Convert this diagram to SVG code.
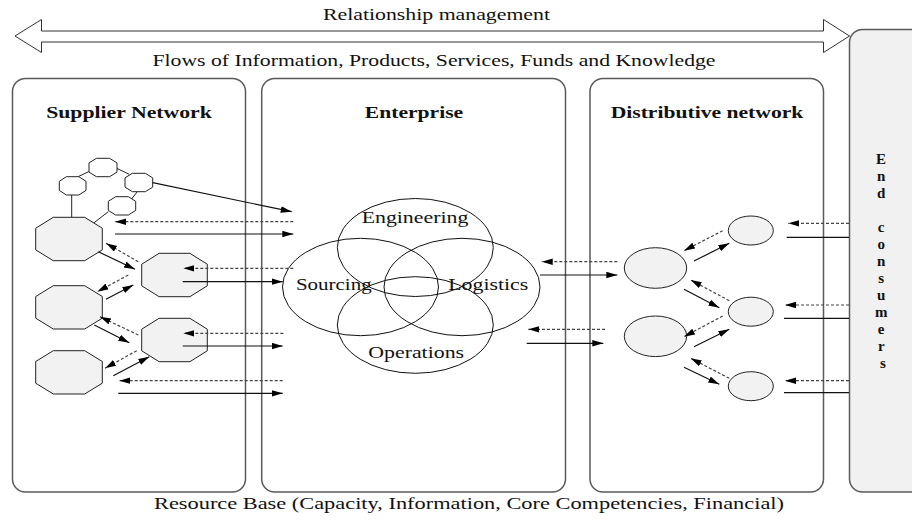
<svg xmlns="http://www.w3.org/2000/svg" width="912" height="523" viewBox="0 0 912 523">
  <style>
    .panel { fill: #ffffff; stroke: #5a5a5a; stroke-width: 1.5; }
    .consumer { fill: #f1f1f1; stroke: #5a5a5a; stroke-width: 1.5; }
    .oct { fill: #f2f2f2; stroke: #222; stroke-width: 1; }
    .soct { fill: #ffffff; stroke: #222; stroke-width: 1; }
    .node-ell { fill: #f2f2f2; stroke: #222; stroke-width: 1; }
    .venn { fill: none; stroke: #111; stroke-width: 1; }
    .link { stroke: #222; stroke-width: 1; fill: none; }
    .solid { stroke: #111; stroke-width: 1.2; fill: none; marker-end: url(#ah); }
    .plain { stroke: #111; stroke-width: 1.2; fill: none; }
    .dash { stroke: #444; stroke-width: 1.2; fill: none; stroke-dasharray: 3 2; marker-end: url(#ah); }
    .lbl { font-family: "Liberation Serif", "Times New Roman", serif; font-size: 17px; fill: #111; }
    .ttl { font-family: "Liberation Serif", "Times New Roman", serif; font-size: 17px; font-weight: bold; fill: #111; }
    .vert { font-family: "Liberation Serif", "Times New Roman", serif; font-size: 15px; font-weight: bold; fill: #111; }
  </style>
  <defs>
    <marker id="ah" markerUnits="userSpaceOnUse" markerWidth="12" markerHeight="8" refX="11" refY="3.25" orient="auto">
      <path d="M0,0 L11,3.25 L0,6.5 z" fill="#000"/>
    </marker>
  </defs>

  <rect width="912" height="523" fill="#ffffff"/>

  <!-- top band: relationship management double arrow -->
  <g id="relationship">
    <polygon points="15,36 41.5,19.5 41.5,31 823.5,31 823.5,19.5 849.5,36 823.5,52.5 823.5,42 41.5,42 41.5,52.5" fill="#fff" stroke="#333" stroke-width="1"/>
    <text class="lbl" x="436.5" y="20" text-anchor="middle" textLength="227" lengthAdjust="spacingAndGlyphs">Relationship management</text>
    <text class="lbl" x="434" y="65.5" text-anchor="middle" textLength="563" lengthAdjust="spacingAndGlyphs">Flows of Information, Products, Services, Funds and Knowledge</text>
  </g>

  <!-- end consumers column -->
  <g id="end-consumers">
    <rect class="consumer" x="849.5" y="29.5" width="80" height="462.5" rx="13" ry="13"/>
    <text class="vert" text-anchor="middle">
      <tspan x="883" y="164">E</tspan>
      <tspan x="883" y="181">n</tspan>
      <tspan x="883" y="198">d</tspan>
      <tspan x="883" y="232">c</tspan>
      <tspan x="883" y="249">o</tspan>
      <tspan x="883" y="266">n</tspan>
      <tspan x="883" y="283">s</tspan>
      <tspan x="883" y="300">u</tspan>
      <tspan x="883" y="317">m</tspan>
      <tspan x="883" y="334">e</tspan>
      <tspan x="883" y="351">r</tspan>
      <tspan x="883" y="368">s</tspan>
    </text>
  </g>

  <!-- supplier network -->
  <g id="supplier-network">
    <rect class="panel" x="12.5" y="78.5" width="233" height="413.5" rx="13" ry="13"/>
    <text class="ttl" x="129" y="118.3" text-anchor="middle" textLength="165.7" lengthAdjust="spacingAndGlyphs">Supplier Network</text>
    <!-- tier-2 supplier cluster -->
    <line class="link" x1="78" y1="176.7" x2="90" y2="171"/>
    <line class="link" x1="116.7" y1="168.3" x2="129.3" y2="174.3"/>
    <line class="link" x1="137.3" y1="191.7" x2="130.7" y2="200"/>
    <line class="link" x1="71.7" y1="195" x2="71.7" y2="217.3"/>
    <line class="link" x1="108.3" y1="211.7" x2="93.3" y2="223.3"/>
    <polygon class="soct" points="96.4,158.3 109.6,158.3 117,162.9 117,172.1 109.6,176.7 96.4,176.7 89,172.1 89,162.9"/>
    <polygon class="soct" points="66.4,176.7 78.9,176.7 86,181.3 86,190.4 78.9,195 66.4,195 59.3,190.4 59.3,181.3"/>
    <polygon class="soct" points="132.3,173.3 145.4,173.3 152.7,177.9 152.7,187.1 145.4,191.7 132.3,191.7 125,187.1 125,177.9"/>
    <polygon class="soct" points="115.6,196.7 128.4,196.7 135.7,201.3 135.7,210.4 128.4,215 115.6,215 108.3,210.4 108.3,201.3"/>
    <!-- tier-1 suppliers -->
    <polygon class="oct" points="53.3,217.3 84.7,217.3 102.3,228.2 102.3,249.9 84.7,260.7 53.3,260.7 35.7,249.9 35.7,228.2"/>
    <polygon class="oct" points="53.3,285.7 84.7,285.7 102.3,296.5 102.3,318.2 84.7,329 53.3,329 35.7,318.2 35.7,296.5"/>
    <polygon class="oct" points="53.3,350.7 84.7,350.7 102.3,361.5 102.3,383.2 84.7,394 53.3,394 35.7,383.2 35.7,361.5"/>
    <polygon class="oct" points="159.1,253.3 189.9,253.3 207.3,264.2 207.3,285.8 189.9,296.7 159.1,296.7 141.7,285.8 141.7,264.2"/>
    <polygon class="oct" points="159.1,318.3 189.9,318.3 207.3,329.2 207.3,350.8 189.9,361.7 159.1,361.7 141.7,350.8 141.7,329.2"/>
  </g>

  <!-- enterprise -->
  <g id="enterprise">
    <rect class="panel" x="261.7" y="78.5" width="303.8" height="413.5" rx="13" ry="13"/>
    <text class="ttl" x="414" y="118.3" text-anchor="middle" textLength="98.3" lengthAdjust="spacingAndGlyphs">Enterprise</text>
    <ellipse class="venn" cx="415.3" cy="247.5" rx="78" ry="49"/>
    <ellipse class="venn" cx="360.5" cy="287" rx="78" ry="48.7"/>
    <ellipse class="venn" cx="462" cy="287" rx="78" ry="48.7"/>
    <ellipse class="venn" cx="415.3" cy="325" rx="78" ry="48.3"/>
    <text class="lbl" x="415" y="223.3" text-anchor="middle" textLength="106.7" lengthAdjust="spacingAndGlyphs">Engineering</text>
    <text class="lbl" x="333.8" y="290" text-anchor="middle" textLength="75.7" lengthAdjust="spacingAndGlyphs">Sourcing</text>
    <text class="lbl" x="488.3" y="290" text-anchor="middle" textLength="80" lengthAdjust="spacingAndGlyphs">Logistics</text>
    <text class="lbl" x="416.2" y="358.3" text-anchor="middle" textLength="95.7" lengthAdjust="spacingAndGlyphs">Operations</text>
  </g>

  <!-- distributive network -->
  <g id="distributive-network">
    <rect class="panel" x="590" y="78.5" width="233.5" height="413.5" rx="13" ry="13"/>
    <text class="ttl" x="707" y="118.3" text-anchor="middle" textLength="192.7" lengthAdjust="spacingAndGlyphs">Distributive network</text>
    <ellipse class="node-ell" cx="655.5" cy="268" rx="31.2" ry="20.3"/>
    <ellipse class="node-ell" cx="655.5" cy="336.3" rx="31.2" ry="20.3"/>
    <ellipse class="node-ell" cx="750.8" cy="230.5" rx="22.5" ry="14.5"/>
    <ellipse class="node-ell" cx="750.8" cy="311.7" rx="22.5" ry="14.5"/>
    <ellipse class="node-ell" cx="750.8" cy="386.2" rx="22.5" ry="14.5"/>
  </g>

  <!-- resource base caption -->
  <g id="resource-base">
    <text class="lbl" x="469" y="509" text-anchor="middle" textLength="630" lengthAdjust="spacingAndGlyphs">Resource Base (Capacity, Information, Core Competencies, Financial)</text>
  </g>

  <!-- flows between nodes and tiers -->
  <g id="connectors">
    <!-- supplier side -->
    <line class="solid" x1="152.7" y1="182.7" x2="291.7" y2="211.7"/>
    <line class="dash" x1="293.3" y1="221.7" x2="115" y2="221.7"/>
    <line class="solid" x1="115" y1="234" x2="293.3" y2="234"/>
    <line class="solid" x1="98.3" y1="251.7" x2="135" y2="269.3"/>
    <line class="dash" x1="138.3" y1="261.7" x2="106" y2="243.3"/>
    <line class="dash" x1="128.3" y1="275" x2="97.3" y2="291.7"/>
    <line class="solid" x1="106" y1="299.3" x2="133.3" y2="285"/>
    <line class="dash" x1="293.3" y1="268.3" x2="183.3" y2="268.3"/>
    <line class="solid" x1="182.7" y1="281.7" x2="282.7" y2="281.7"/>
    <line class="dash" x1="138.3" y1="335" x2="100" y2="316.7"/>
    <line class="solid" x1="94.3" y1="325" x2="129.3" y2="342.7"/>
    <line class="dash" x1="136.7" y1="350.7" x2="105" y2="368.3"/>
    <line class="solid" x1="113.3" y1="375.7" x2="149.3" y2="356.7"/>
    <line class="dash" x1="283.3" y1="333.3" x2="183.3" y2="333.3"/>
    <line class="solid" x1="182.7" y1="346" x2="282.7" y2="346"/>
    <line class="dash" x1="282.7" y1="380.7" x2="119.3" y2="380.7"/>
    <line class="solid" x1="118.3" y1="393.3" x2="282.7" y2="393.3"/>
    <!-- enterprise to distribution -->
    <line class="dash" x1="617.3" y1="261.7" x2="541.7" y2="261.7"/>
    <line class="solid" x1="540" y1="275" x2="617.3" y2="275"/>
    <line class="dash" x1="605" y1="329.3" x2="528.3" y2="329.3"/>
    <line class="solid" x1="526.7" y1="343.3" x2="603.3" y2="343.3"/>
    <!-- within distribution -->
    <line class="dash" x1="722.7" y1="230.7" x2="684" y2="250.7"/>
    <line class="solid" x1="694" y1="261" x2="729.3" y2="243.3"/>
    <line class="solid" x1="684" y1="289.3" x2="719.3" y2="307.7"/>
    <line class="dash" x1="729.3" y1="300.7" x2="690.7" y2="280"/>
    <line class="dash" x1="722.7" y1="316" x2="684" y2="336.7"/>
    <line class="solid" x1="694" y1="346.7" x2="729.3" y2="329.3"/>
    <line class="solid" x1="684" y1="367.3" x2="719.3" y2="384.3"/>
    <line class="dash" x1="729.3" y1="378.3" x2="690.7" y2="358.3"/>
    <!-- end consumers -->
    <line class="dash" x1="849" y1="223.3" x2="788.3" y2="223.3"/>
    <line class="plain" x1="786.7" y1="237.3" x2="849" y2="237.3"/>
    <line class="dash" x1="849" y1="305" x2="785" y2="305"/>
    <line class="plain" x1="784" y1="318.3" x2="849" y2="318.3"/>
    <line class="dash" x1="849" y1="380.7" x2="785" y2="380.7"/>
    <line class="plain" x1="784" y1="392.7" x2="849" y2="392.7"/>
  </g>
</svg>
